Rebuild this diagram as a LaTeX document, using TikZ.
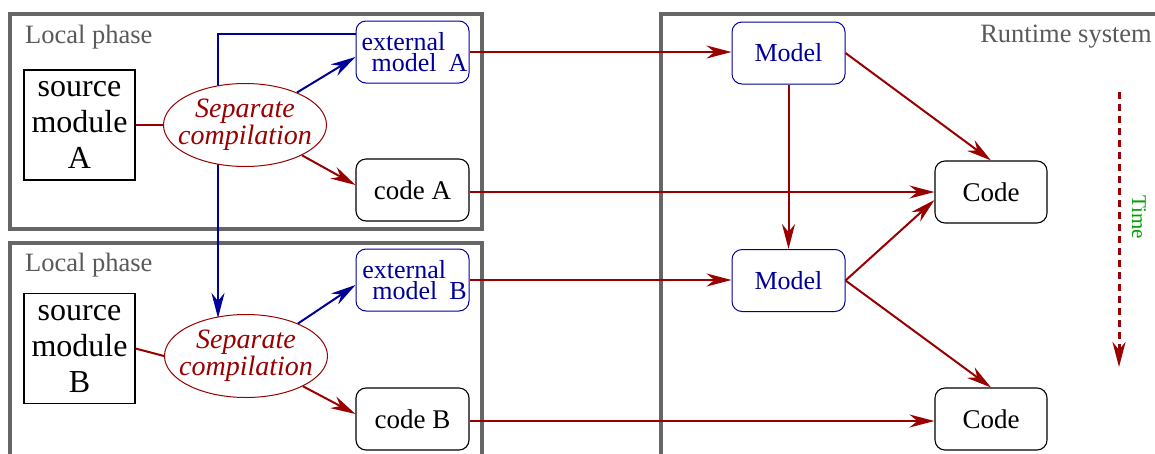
\documentclass[tikz,border=0pt]{standalone}
\usepackage{fontspec}
\setmainfont{Liberation Serif}
\usetikzlibrary{arrows.meta,shapes.geometric,calc}
\definecolor{dred}{RGB}{153,0,0}
\definecolor{dblue}{RGB}{0,0,153}
\definecolor{framegray}{RGB}{102,102,102}
\definecolor{labelgray}{RGB}{90,90,90}
\definecolor{tgreen}{RGB}{0,160,0}
\begin{document}
\begin{tikzpicture}[x=1pt,y=-1pt,
  phase/.style={draw=framegray, line width=4pt},
  phaselabel/.style={text=labelgray, inner sep=0pt, font=\fontsize{26.5}{28}\selectfont},
  srcbox/.style={draw, line width=1.1pt, minimum width=111pt, minimum height=110pt, inner sep=0pt, align=center, font=\fontsize{32}{36}\selectfont},
  compell/.style={ellipse, draw=dred, line width=1pt, fill=white, minimum width=163pt, minimum height=83pt, inner xsep=-12pt, inner ysep=0pt, align=center, text=dred, font=\fontsize{28}{27}\selectfont\itshape},
  bluebox/.style={draw=dblue, line width=1pt, rounded corners=10pt, minimum width=113pt, minimum height=62pt, inner sep=0pt, text=dblue, font=\fontsize{26}{21}\selectfont},
  blackbox/.style={draw=black, line width=1.1pt, rounded corners=10pt, minimum width=113pt, minimum height=62pt, inner sep=0pt, font=\fontsize{27}{28}\selectfont},
  redarrow/.style={draw=dred, line width=2pt, -{Stealth[length=25pt,width=13pt,inset=8pt]}},
  bluearrow/.style={draw=dblue, line width=2pt, -{Stealth[length=25pt,width=13pt,inset=8pt]}},
  redline/.style={draw=dred, line width=2pt},
]
\clip (0,0) rectangle (1155,453);
\fill[white] (0,0) rectangle (1155,453);

% frames
\draw[phase] (10,14) rectangle (482,229);
\draw[phase] (10,243) rectangle (482,480);
\draw[phase] (661,14) rectangle (1190,480);
\node[phaselabel, anchor=base west] (lpA) at (25,43) {Local phase};
\node[phaselabel, anchor=base west] (lpB) at (25,271) {Local phase};
\node[phaselabel, anchor=base east] (rts) at (1152,42) {Runtime system};

% local phase A nodes
\node[srcbox] (srcA) at (79.5,125) {source\\module\\A};
\node[bluebox, align=left] (extA) at (412.5,52) {\hspace*{4pt}external\\\hspace*{14pt}model\hspace{12pt}A};
\node[blackbox] (codeA) at (412.5,190) {code A};

% local phase B nodes
\node[srcbox] (srcB) at (79.5,348.5) {source\\module\\B};
\node[compell] (ellB) at (246,356) {Separate\\compilation};
\node[bluebox, align=left] (extB) at (412.5,280) {\hspace*{4pt}external\\\hspace*{14pt}model\hspace{12pt}B};
\node[blackbox] (codeB) at (412.5,419) {code B};

% blue dependency line (behind ellipse A)
\coordinate (bend) at (218,34);
\coordinate (bendend) at (218,318);
\draw[bluearrow] (extA.west |- bend) -- (bend) -- (bendend);

\node[compell] (ellA) at (245,125) {Separate\\compilation};

% runtime nodes
\node[bluebox] (m1) at (788.5,53) {Model};
\node[bluebox] (m2) at (788.5,280.5) {Model};
\node[blackbox, minimum width=112pt] (c1) at (991,192) {Code};
\node[blackbox, minimum width=112pt] (c2) at (991,419) {Code};

% local edges A
\draw[redline] (srcA.east) -- (ellA.west);
\draw[bluearrow] (ellA.32) -- ($(extA.west)+(0,5)$);
\draw[redarrow] (ellA.-28) -- ($(codeA.west)+(0,-5)$);
% local edges B
\draw[redline] (srcB.east) -- (ellB.west);
\draw[bluearrow] (ellB.32) -- ($(extB.west)+(0,5)$);
\draw[redarrow] (ellB.-28) -- ($(codeB.west)+(0,-5)$);

% to runtime
\draw[redarrow] (extA.east) -- (extA.east -| m1.west);
\draw[redarrow] ($(codeA.east)+(0,2)$) -- ($(codeA.east -| c1.west)+(0,2)$);
\draw[redarrow] (extB.east) -- (extB.east -| m2.west);
\draw[redarrow] ($(codeB.east)+(0,2)$) -- ($(codeB.east -| c2.west)+(0,2)$);

% runtime edges
\draw[redarrow] (m1.south) -- (m2.north);
\draw[redarrow] (m1.east) -- (c1.north);
\draw[redarrow] (m2.east) -- ($(c1.west)+(0,8)$);
\draw[redarrow] (m2.east) -- (c2.north);

% time
\coordinate (t1) at (1119,92);
\coordinate (t2) at (1119,367);
\draw[draw=dred, line width=3pt, dash pattern=on 7pt off 5pt, -{Stealth[length=25pt,width=13pt,inset=8pt]}] (t1) -- (t2);
\node[rotate=-90, text=tgreen, inner sep=0pt, font=\fontsize{21}{22}\selectfont] (time) at (1139,217) {Time};
\end{tikzpicture}
\end{document}
